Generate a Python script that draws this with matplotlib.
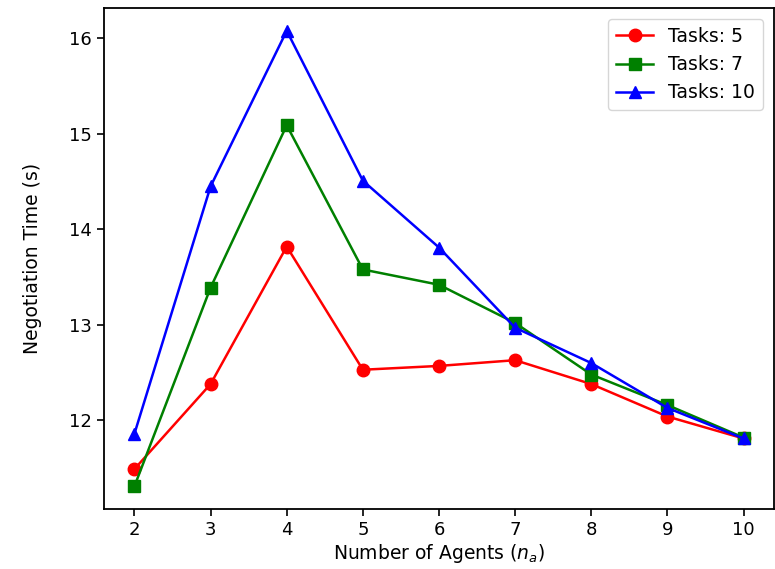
import matplotlib
matplotlib.use("Agg")
import matplotlib.pyplot as plt

agents = [2, 3, 4, 5, 6, 7, 8, 9, 10]
tasks5 = [11.49, 12.38, 13.82, 12.53, 12.57, 12.63, 12.38, 12.04, 11.81]
tasks7 = [11.31, 13.39, 15.09, 13.58, 13.42, 13.02, 12.48, 12.16, 11.82]
tasks10 = [11.86, 14.45, 16.08, 14.51, 13.81, 12.97, 12.60, 12.13, 11.81]

fig = plt.figure(figsize=(7.75, 5.69), dpi=100)
ax = fig.add_axes([104/775, 60/569, 670/775, 501/569])

ax.plot(agents, tasks5, color="red", marker="o", ms=9, lw=1.8, label="Tasks: 5")
ax.plot(agents, tasks7, color="green", marker="s", ms=9, lw=1.8, label="Tasks: 7")
ax.plot(agents, tasks10, color="blue", marker="^", ms=9, lw=1.8, label="Tasks: 10")

ax.set_xticks(agents)
ax.set_yticks([12, 13, 14, 15, 16])
ax.tick_params(labelsize=13, length=5, width=1.2)
for s in ax.spines.values():
    s.set_linewidth(1.3)
ax.set_xlabel("Number of Agents ($n_a$)", fontsize=13.5, labelpad=2)
ax.set_ylabel("Negotiation Time (s)", fontsize=13.5, labelpad=20)
ax.legend(loc="upper right", fontsize=13.5, borderaxespad=0.6)

fig.savefig("out.png", dpi=100)
